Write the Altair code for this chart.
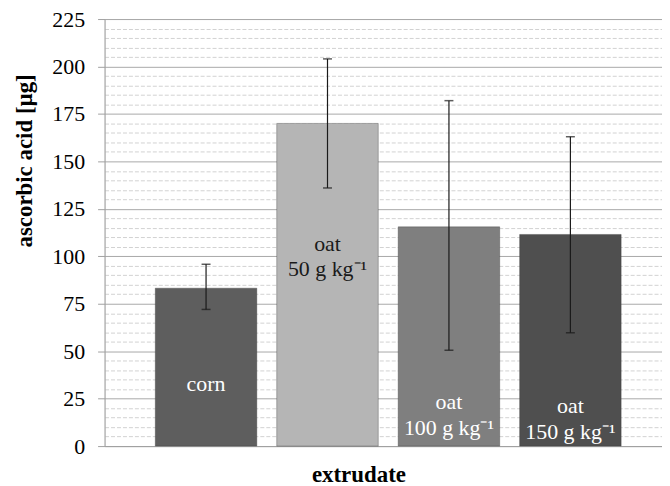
import altair as alt
import pandas as pd

# ---- data ----
categories = ["corn", "oat 50", "oat 100", "oat 150"]
values = [83.2, 170.0, 115.5, 111.5]
err_low = [72.0, 136.0, 50.5, 59.7]
err_high = [95.8, 204.0, 182.0, 163.0]
bar_labels = ["corn", "oat\n50 g kg⁻¹", "oat\n100 g kg⁻¹", "oat\n150 g kg⁻¹"]
label_at = [32.5, 106.7, 23.1, 21.0]
bar_colors = ["#5e5e5e", "#b5b5b5", "#7f7f7f", "#4f4f4f"]
label_colors = ["#ffffff", "#1a1a1a", "#ffffff", "#ffffff"]
y_ticks = list(range(0, 226, 5))

df = pd.DataFrame({
    "cat": categories,
    "value": values,
    "lo": err_low,
    "hi": err_high,
    "label": bar_labels,
    "label_at": label_at,
})

FONT = "Liberation Serif"
major = "datum.value % 25 === 0"

x_axis = alt.Axis(
    title="extrudate",
    labels=False,
    ticks=False,
    domainColor="#a0a0a0",
    titleFont=FONT,
    titleFontSize=23,
    titleFontWeight="bold",
    titleColor="#000000",
    titleX=255,
    titleY=36,
    titleBaseline="alphabetic",
    titleAnchor="start",
    titleAlign="center",
)
x_scale = alt.Scale(paddingInner=0.164, paddingOuter=0.377, align=0.554)


def xe():
    return alt.X("cat:N", sort=categories, scale=x_scale, axis=x_axis)


y_scale = alt.Scale(domain=[0, 225], nice=False, zero=True)

y_axis = alt.Axis(
    title="ascorbic acid [µg]",
    values=y_ticks,
    labelExpr=f"{major} ? datum.label : ''",
    labelFont=FONT,
    labelFontSize=22,
    labelColor="#000000",
    labelPadding=13,
    tickSize=7,
    tickColor="#a0a0a0",
    tickOpacity={"condition": {"test": major, "value": 1}, "value": 0},
    domainColor="#a0a0a0",
    grid=True,
    gridColor={"condition": {"test": major, "value": "#a8a8a8"}, "value": "#d2d2d2"},
    gridDash={"condition": {"test": major, "value": []}, "value": [4, 2]},
    gridWidth=1,
    titleFont=FONT,
    titleFontSize=23,
    titleFontWeight="bold",
    titleColor="#000000",
    titleX=-73,
    titleY=142,
    titleBaseline="alphabetic",
    titleAngle=-90,
)


def ye(field):
    return alt.Y(field, scale=y_scale, axis=y_axis, title="ascorbic acid [µg]")


bars = alt.Chart(df).mark_bar(stroke="#3a3a3a", strokeWidth=0.6, strokeOpacity=0.6).encode(
    x=xe(),
    y=ye("value:Q"),
    color=alt.Color("cat:N", sort=categories,
                    scale=alt.Scale(domain=categories, range=bar_colors), legend=None),
)

rules = alt.Chart(df).mark_rule(color="#1a1a1a", strokeWidth=1.2).encode(
    x=xe(),
    y=ye("lo:Q"),
    y2="hi:Q",
)

caps_lo = alt.Chart(df).mark_tick(color="#1a1a1a", size=9, thickness=1.5, orient="horizontal").encode(
    x=xe(),
    y=ye("lo:Q"),
)
caps_hi = alt.Chart(df).mark_tick(color="#1a1a1a", size=9, thickness=1.5, orient="horizontal").encode(
    x=xe(),
    y=ye("hi:Q"),
)

labels = alt.Chart(df).mark_text(
    font=FONT, fontSize=22, lineBreak="\n", lineHeight=26,
    align="center", baseline="middle",
).encode(
    x=xe(),
    y=ye("label_at:Q"),
    text="label:N",
    color=alt.Color("cat:N", sort=categories,
                    scale=alt.Scale(domain=categories, range=label_colors), legend=None),
)

chart = alt.layer(bars, rules, caps_lo, caps_hi, labels).resolve_scale(
    color="independent"
).properties(
    width=560,
    height=429,
    padding={"left": 97, "top": 10, "right": 0, "bottom": 39},
    autosize=alt.AutoSizeParams(type="none"),
).configure_view(stroke=None).configure(background="#ffffff")

chart.save("out.html", embed_options={"renderer": "svg", "actions": False})
